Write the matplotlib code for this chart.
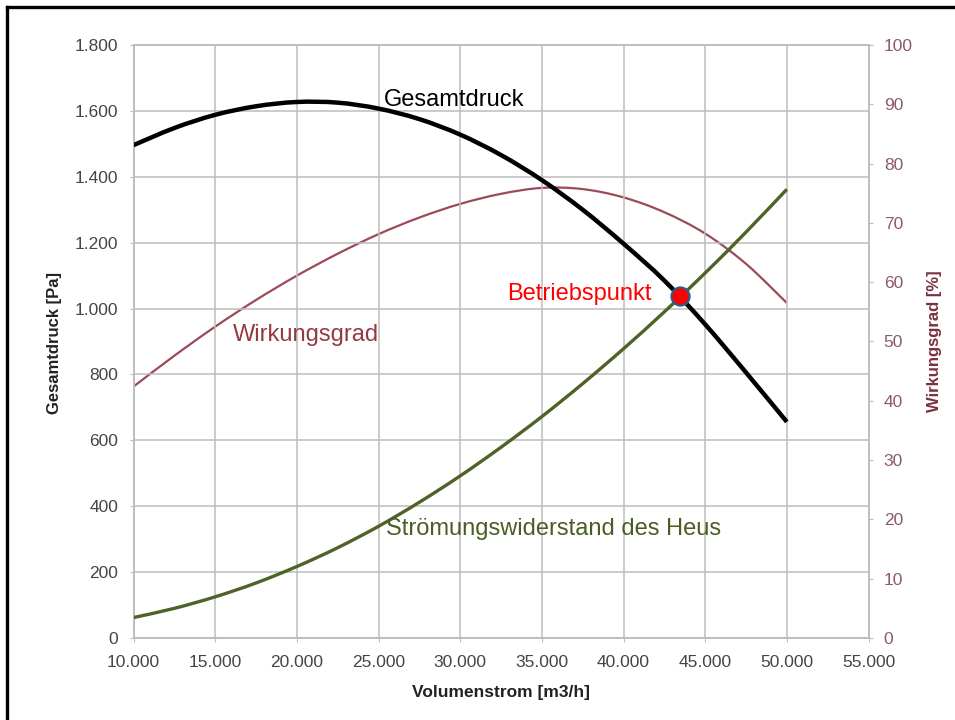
import matplotlib
matplotlib.use("Agg")
import matplotlib.pyplot as plt
from matplotlib.ticker import FuncFormatter
from matplotlib.lines import Line2D
from matplotlib.path import Path
from matplotlib.patches import PathPatch

# ---- data ----
volumenstrom = [10000, 12500, 15000, 17500, 20000, 22500, 25000, 27500, 30000,
                32500, 35000, 37500, 40000, 42500, 45000, 47500, 50000]
gesamtdruck = [1496, 1548, 1588, 1614, 1627, 1625, 1607, 1575, 1528,
               1466, 1390, 1300, 1197, 1085, 952, 806, 656]
wirkungsgrad = [42.4, 47.6, 52.5, 57.0, 61.1, 64.8, 68.1, 70.9, 73.2,
                74.9, 75.9, 75.7, 74.3, 71.8, 68.2, 63.1, 56.5]
widerstand = [62, 90, 125, 167, 217, 274, 339, 412, 492,
              579, 672, 772, 878, 990, 1108, 1232, 1362]
betriebspunkt = (43450, 1038)

x_ticks = list(range(10000, 55001, 5000))
y_left_ticks = list(range(0, 1801, 200))
y_right_ticks = list(range(0, 101, 10))

plt.rcParams['font.family'] = ['Liberation Sans', 'DejaVu Sans']

fig = plt.figure(figsize=(9.55, 7.2), dpi=100)
ax = fig.add_axes([133.5 / 955, 82 / 720, 735 / 955, 593 / 720])
ax2 = ax.twinx()


def de_fmt(v, pos):
    return f"{v:,.0f}".replace(",", ".")


def smooth_line(axis, xs, ys, zorder, **kw):
    """Draw a smoothed line (like Excel's 'smoothed line') through the points."""
    pts = list(zip(xs, ys))
    n = len(pts)
    verts = [pts[0]]
    codes = [Path.MOVETO]
    for i in range(n - 1):
        p0 = pts[i - 1] if i > 0 else pts[i]
        p1 = pts[i]
        p2 = pts[i + 1]
        p3 = pts[i + 2] if i + 2 < n else pts[i + 1]
        c1 = (p1[0] + (p2[0] - p0[0]) / 6, p1[1] + (p2[1] - p0[1]) / 6)
        c2 = (p2[0] - (p3[0] - p1[0]) / 6, p2[1] - (p3[1] - p1[1]) / 6)
        verts += [c1, c2, p2]
        codes += [Path.CURVE4] * 3
    patch = PathPatch(Path(verts, codes), fill=False, transform=axis.transData,
                      zorder=zorder, capstyle='butt', joinstyle='round', **kw)
    axis.add_patch(patch)


grid_c = '#bdbdbd'
ax.set_xlim(10000, 55000)
ax.set_ylim(0, 1800)
ax.set_xticks(x_ticks)
ax.set_yticks(y_left_ticks)
ax.xaxis.set_major_formatter(FuncFormatter(de_fmt))
ax.yaxis.set_major_formatter(FuncFormatter(de_fmt))
ax.grid(True, color=grid_c, linewidth=1.1)
ax.set_axisbelow(True)
ax.tick_params(axis='both', length=3, color=grid_c, labelsize=12.5,
               labelcolor='#454545')
ax.tick_params(axis='x', pad=9)
ax.tick_params(axis='y', pad=8)

ax2.set_ylim(0, 100)
ax2.set_yticks(y_right_ticks)
ax2.tick_params(axis='y', length=3, color=grid_c, labelsize=12.5,
                labelcolor='#8c5a64', pad=8)

for a in (ax, ax2):
    for s in a.spines.values():
        s.set_color(grid_c)
        s.set_linewidth(1.1)

# curves
smooth_line(ax2, volumenstrom, wirkungsgrad, 2, edgecolor='#9b4a58',
            linewidth=1.6)
ax.set_zorder(ax2.get_zorder() + 1)
ax.patch.set_visible(False)
smooth_line(ax, volumenstrom, widerstand, 3, edgecolor='#4f6228',
            linewidth=2.4)
smooth_line(ax, volumenstrom, gesamtdruck, 4, edgecolor='black',
            linewidth=3.2)
ax.plot([betriebspunkt[0]], [betriebspunkt[1]], 'o', markersize=13,
        markerfacecolor='#ff0000', markeredgecolor='#2f5a8a',
        markeredgewidth=1.6, zorder=6)

# annotations
ax.text(25330, 1615, "Gesamtdruck", fontsize=17, color='black',
        ha='left', va='baseline')
ax.text(32870, 1026, "Betriebspunkt", fontsize=17, color='#ff0000',
        ha='left', va='baseline', zorder=7)
ax.text(16070, 900, "Wirkungsgrad", fontsize=17, color='#953a40',
        ha='left', va='baseline')
ax.text(25450, 313, "Strömungswiderstand des Heus", fontsize=17,
        color='#4a5e23', ha='left', va='baseline')

# axis titles
fig.text(501 / 955, 1 - 692 / 720, "Volumenstrom [m3/h]", fontsize=12.5,
         fontweight='bold', color='#222222', ha='center', va='center')
fig.text(55 / 955, 1 - 343 / 720, "Gesamtdruck [Pa]", fontsize=12,
         fontweight='bold', color='#222222', ha='center', va='center',
         rotation=90)
fig.text(934 / 955, 1 - 341 / 720, "Wirkungsgrad [%]", fontsize=12,
         fontweight='bold', color='#7a3040', ha='center', va='center',
         rotation=90)

# outer frame (left and top edges visible)
fig.add_artist(Line2D([7 / 955, 7 / 955], [0, 1 - 7 / 720],
                      transform=fig.transFigure, color='black', linewidth=2.4))
fig.add_artist(Line2D([7 / 955, 1], [1 - 7 / 720, 1 - 7 / 720],
                      transform=fig.transFigure, color='black', linewidth=2.4))

fig.savefig("out.png", dpi=100)
